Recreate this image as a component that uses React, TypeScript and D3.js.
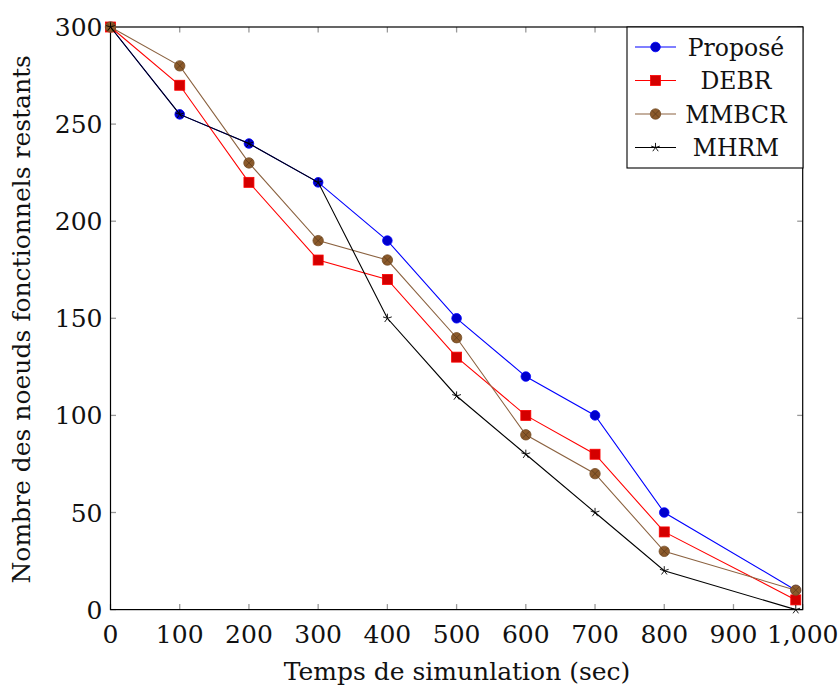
import React from "react";
import * as d3 from "d3";

const xValues = [0, 100, 200, 300, 400, 500, 600, 700, 800, 990];
const propose = [300, 255, 240, 220, 190, 150, 120, 100, 50, 10];
const debr = [300, 270, 220, 180, 170, 130, 100, 80, 40, 5];
const mmbcr = [300, 280, 230, 190, 180, 140, 90, 70, 30, 10];
const mhrm = [300, 255, 240, 220, 150, 110, 80, 50, 20, 0];
const seriesNames = ["Proposé", "DEBR", "MMBCR", "MHRM"];
const xTicks = [0, 100, 200, 300, 400, 500, 600, 700, 800, 900, 1000];
const yTicks = [0, 50, 100, 150, 200, 250, 300];

const W = 838, H = 688;
const L = 110.5, R = 802.7, T = 27, B = 609.6;
const FONT = "'DejaVu Serif', serif";

function Marker({ kind, x, y }: { kind: string; x: number; y: number }) {
  if (kind === "circle") return <circle cx={x} cy={y} r={4.8} fill="#0000cc" stroke="#0000ff" strokeWidth={0.8} />;
  if (kind === "square") return <rect x={x - 5} y={y - 5} width={10} height={10} fill="#d40000" stroke="#ff0000" strokeWidth={0.8} />;
  if (kind === "otimes") {
    const r = 5.2, d = r * 0.7071;
    return (
      <g>
        <circle cx={x} cy={y} r={r} fill="#8b5a2b" stroke="#734d26" strokeWidth={0.8} />
        <path d={`M${x - d},${y - d}L${x + d},${y + d}M${x - d},${y + d}L${x + d},${y - d}`} stroke="#5a3a1a" strokeWidth={0.7} />
      </g>
    );
  }
  const r = 4.6;
  const d = d3.range(5).map((i) => {
    const a = -Math.PI / 2 + (i * 2 * Math.PI) / 5;
    return `M${x},${y}L${x + r * Math.cos(a)},${y + r * Math.sin(a)}`;
  }).join("");
  return <path d={d} stroke="#000" strokeWidth={0.9} fill="none" />;
}

export default function App() {
  const x = d3.scaleLinear().domain([0, 1000]).range([L, R]);
  const y = d3.scaleLinear().domain([0, 300]).range([B, T]);
  const series = [
    { name: seriesNames[0], data: propose, color: "#0000ff", kind: "circle" },
    { name: seriesNames[1], data: debr, color: "#ff0000", kind: "square" },
    { name: seriesNames[2], data: mmbcr, color: "#8b6240", kind: "otimes" },
    { name: seriesNames[3], data: mhrm, color: "#000000", kind: "star" },
  ];
  const line = d3.line<number>().x((_, i) => x(xValues[i])).y((d) => y(d));
  const tickLen = 5.5;
  const legX = 627, legY = 27, legW = 176, legH = 141;
  return (
    <svg width={W} height={H} style={{ position: "absolute", left: 0, top: 0, background: "#fff" }}>
      {xTicks.map((t) => (
        <g key={"xt" + t}>
          <line x1={x(t)} x2={x(t)} y1={B} y2={B - tickLen} stroke="#999" strokeWidth={1.3} />
          <line x1={x(t)} x2={x(t)} y1={T} y2={T + tickLen} stroke="#999" strokeWidth={1.3} />
          <text x={x(t)} y={643} textAnchor="middle" fontFamily={FONT} fontSize={25} fill="#111">
            {d3.format(",")(t)}
          </text>
        </g>
      ))}
      {yTicks.map((t) => (
        <g key={"yt" + t}>
          <line x1={L} x2={L + tickLen} y1={y(t)} y2={y(t)} stroke="#999" strokeWidth={1.3} />
          <line x1={R} x2={R - tickLen} y1={y(t)} y2={y(t)} stroke="#999" strokeWidth={1.3} />
          <text x={L - 8} y={y(t) + 9} textAnchor="end" fontFamily={FONT} fontSize={25} fill="#111">
            {t}
          </text>
        </g>
      ))}
      <rect x={L} y={T} width={R - L} height={B - T} fill="none" stroke="#000" strokeWidth={1.2} />
      {series.map((s) => (
        <g key={s.name}>
          <path d={line(s.data) || ""} fill="none" stroke={s.color} strokeWidth={1.1} />
          {s.data.map((v, i) => (
            <Marker key={i} kind={s.kind} x={x(xValues[i])} y={y(v)} />
          ))}
        </g>
      ))}
      <rect x={legX} y={legY} width={legW} height={legH} fill="#fff" stroke="#000" strokeWidth={1.1} />
      {series.map((s, i) => {
        const cy = 47 + i * 33.5;
        return (
          <g key={"lg" + s.name}>
            <line x1={635} x2={676} y1={cy} y2={cy} stroke={s.color} strokeWidth={1.1} />
            <Marker kind={s.kind} x={655.5} y={cy} />
            <text x={736} y={cy + 8.5} textAnchor="middle" fontFamily={FONT} fontSize={23.5} fill="#111">
              {s.name}
            </text>
          </g>
        );
      })}
      <text x={457} y={680} textAnchor="middle" fontFamily={FONT} fontSize={25} fill="#111">
        Temps de simunlation (sec)
      </text>
      <text
        transform={`translate(30,${(T + B) / 2 + 1}) rotate(-90)`}
        textAnchor="middle"
        fontFamily={FONT}
        fontSize={25}
        fill="#111"
      >
        Nombre des noeuds fonctionnels restants
      </text>
    </svg>
  );
}
